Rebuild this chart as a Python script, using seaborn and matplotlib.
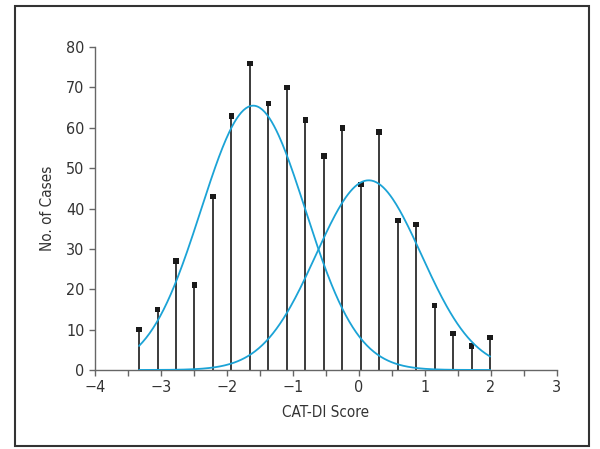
import matplotlib
matplotlib.use("Agg")
import matplotlib.pyplot as plt
import numpy as np
import pandas as pd
import seaborn as sns
from matplotlib.patches import Rectangle
from matplotlib.ticker import MultipleLocator

# observed score histogram (stems)
SCORES = [-3.33, -3.05, -2.77, -2.49, -2.21, -1.93, -1.65, -1.37, -1.09, -0.81,
          -0.53, -0.25, 0.03, 0.31, 0.59, 0.87, 1.15, 1.43, 1.71, 1.99]
CASES = [10, 15, 27, 21, 43, 63, 76, 66, 70, 62, 53, 60, 46, 59, 37, 36, 16, 9, 6, 8]

# fitted normal components: mean, sd, peak height
COMP_MEAN = [-1.60, 0.15]
COMP_SD = [0.79, 0.80]
COMP_PEAK = [65.5, 47.0]

CURVE_COLOR = "#1ba3d6"


def main():
    sns.set_style("ticks")
    plt.rcParams["font.family"] = ["DejaVu Sans"]
    plt.rcParams["font.stretch"] = "condensed"

    fig = plt.figure(figsize=(6.0, 4.49), dpi=100)
    ax = fig.add_axes([0.158, 0.176, 0.770, 0.719])

    # outer frame around the whole figure
    fig.patches.append(Rectangle((0.025, 0.007), 0.957, 0.980, transform=fig.transFigure,
                                 fill=False, edgecolor="#333333", linewidth=1.5))

    df = pd.DataFrame({"score": SCORES, "cases": CASES})
    ax.vlines(df["score"], 0, df["cases"], color="#1a1a1a", linewidth=1.2, zorder=2)
    sns.scatterplot(data=df, x="score", y="cases", marker="s", s=16, color="#1a1a1a",
                    edgecolor="none", ax=ax, zorder=3)

    grid = np.linspace(SCORES[0], SCORES[-1], 300)
    for mu, sd, peak in zip(COMP_MEAN, COMP_SD, COMP_PEAK):
        dens = peak * np.exp(-0.5 * ((grid - mu) / sd) ** 2)
        sns.lineplot(x=grid, y=dens, color=CURVE_COLOR, linewidth=1.3, ax=ax, zorder=4)

    ax.set_xlim(-4, 3)
    ax.set_ylim(0, 80)
    ax.xaxis.set_major_locator(MultipleLocator(1))
    ax.xaxis.set_minor_locator(MultipleLocator(0.5))
    ax.yaxis.set_major_locator(MultipleLocator(10))
    ax.set_xticklabels([f"{int(v)}".replace("-", "\u2212") for v in ax.get_xticks()])

    for side in ["top", "right"]:
        ax.spines[side].set_visible(False)
    for side in ["left", "bottom"]:
        ax.spines[side].set_color("#666666")
        ax.spines[side].set_linewidth(1.0)
    ax.tick_params(which="both", direction="out", color="#666666", width=1.0,
                   labelsize=11.5, labelcolor="#333333")
    ax.tick_params(which="major", length=4)
    ax.tick_params(which="minor", length=4)

    ax.set_xlabel("CAT-DI Score", fontsize=11, color="#333333", labelpad=7)
    ax.set_ylabel("No. of Cases", fontsize=11, color="#333333", labelpad=8)

    fig.savefig("out.png", dpi=100, facecolor="white")
    plt.close(fig)


if __name__ == "__main__":
    main()
